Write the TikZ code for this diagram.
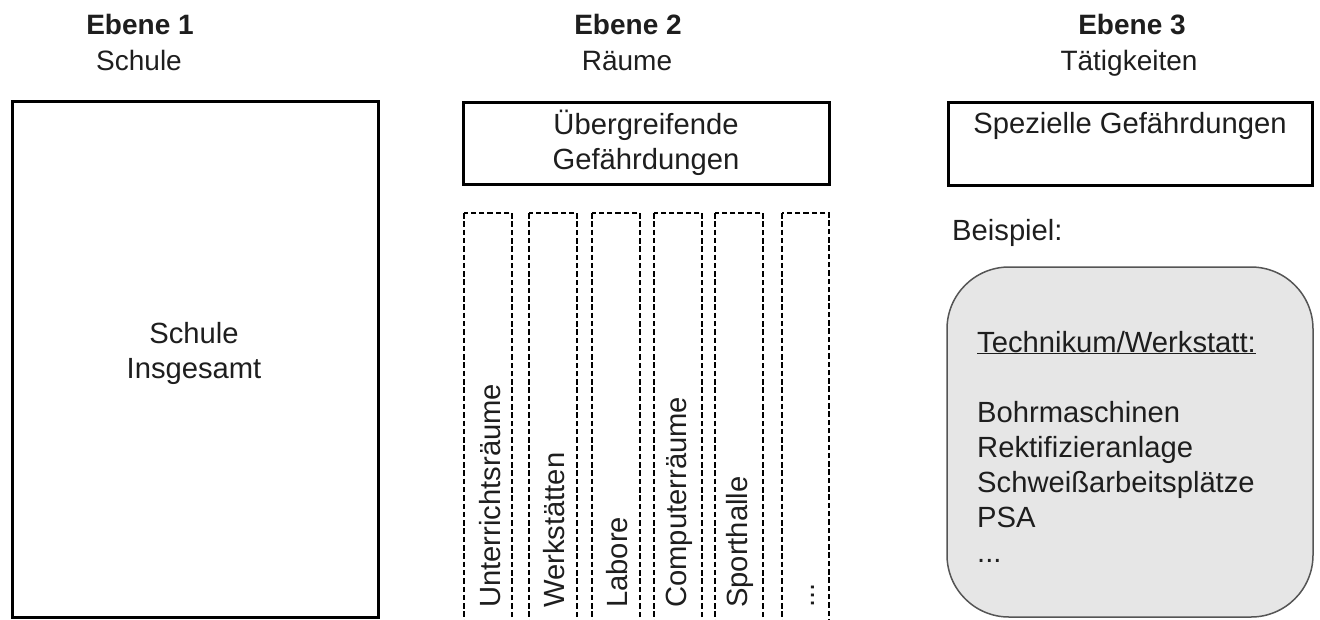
\documentclass[tikz,border=0pt]{standalone}
\usepackage{fontspec}
\setmainfont{Liberation Sans}
\definecolor{txt}{HTML}{1E1E1E}
\definecolor{boxgray}{HTML}{E6E6E6}
\definecolor{edgegray}{HTML}{555555}
\begin{document}
\begin{tikzpicture}[x=1pt,y=-1pt,
  every node/.style={text=txt, font=\fontsize{29.2}{35}\selectfont},
  hdr/.style={font=\bfseries\fontsize{28}{35}\selectfont, anchor=base},
  sub/.style={anchor=base},
  subh/.style={anchor=base, font=\fontsize{28}{35}\selectfont},
  solidbox/.style={draw=black, line width=3pt, fill=white, inner sep=0pt},
  colbox/.style={draw=black, line width=2.2pt, dash pattern=on 5.5pt off 2.8pt},
  coltext/.style={rotate=90, anchor=west, inner sep=0pt},
  listtext/.style={anchor=base west, inner sep=0pt},
  example/.style={draw=edgegray, line width=1.5pt, fill=boxgray, rounded corners=62pt}
]
\useasboundingbox (0,0) rectangle (1320,619);
\clip (0,0) rectangle (1320,619);

% headers
\node[hdr] (e1) at (140,34) {Ebene 1};
\node[subh] (s1) at (139,70) {Schule};
\node[hdr] (e2) at (628,34) {Ebene 2};
\node[subh] (s2) at (627,70) {Räume};
\node[hdr] (e3) at (1132,34) {Ebene 3};
\node[subh] (s3) at (1129,70) {Tätigkeiten};

% level 1
\draw[solidbox] (12,101) rectangle (378,617);
\node[sub] (sch1) at (194,343) {Schule};
\node[sub] (sch2) at (194,378) {Insgesamt};

% level 2
\draw[solidbox] (463,102) rectangle (829,184);
\node[sub] (ueb1) at (646,134) {Übergreifende};
\node[sub] (ueb2) at (646,169) {Gefährdungen};

\draw[colbox] (464,213) rectangle (512,640);
\draw[colbox] (529,213) rectangle (577,640);
\draw[colbox] (592,213) rectangle (640,640);
\draw[colbox] (654,213) rectangle (702,640);
\draw[colbox] (715,213) rectangle (763,640);
\draw[colbox] (782,213) rectangle (829,640);

\node[coltext] (c1) at (490,608) {Unterrichtsräume};
\node[coltext] (c2) at (554,608) {Werkstätten};
\node[coltext] (c3) at (617,608) {Labore};
\node[coltext] (c4) at (679,608) {Computerräume};
\node[coltext] (c5) at (740,608) {Sporthalle};
\node[coltext] (c6) at (813,608) {...};

% level 3
\draw[solidbox] (948,102) rectangle (1312,185);
\node[sub] (spez) at (1130,133) {Spezielle Gefährdungen};
\node[listtext] (beisp) at (952,240) {Beispiel:};

\draw[example] (947,267) rectangle (1313,617);
\node[listtext] (tech) at (977,352) {\underline{Technikum/Werkstatt:}};
\node[listtext] (l1) at (977,422) {Bohrmaschinen};
\node[listtext] (l2) at (977,457) {Rektifizieranlage};
\node[listtext] (l3) at (977,492) {Schweißarbeitsplätze};
\node[listtext] (l4) at (977,527) {PSA};
\node[listtext] (l5) at (977,562) {...};
\end{tikzpicture}
\end{document}
